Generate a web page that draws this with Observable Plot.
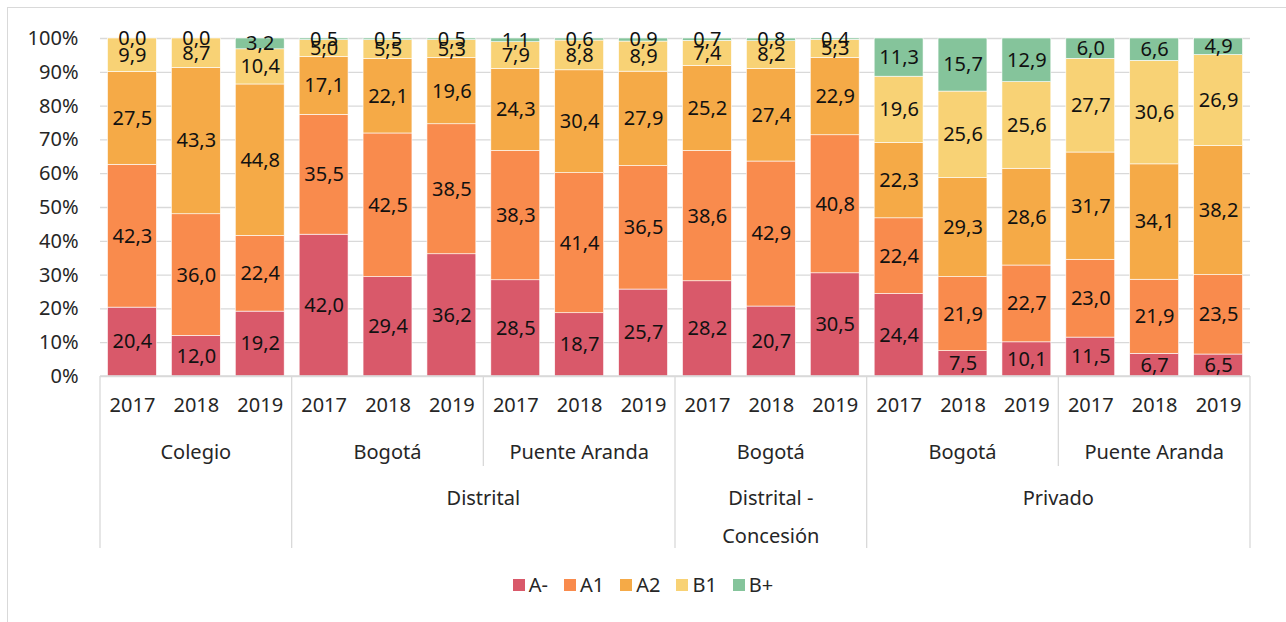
<!DOCTYPE html>
<html><head><meta charset="utf-8">
<script src="https://cdn.jsdelivr.net/npm/d3@7"></script>
<script src="https://cdn.jsdelivr.net/npm/@observablehq/plot@0.6"></script>
<style>
body{margin:0;background:#fff;font-family:"Noto Sans",sans-serif;}
#wrap{position:relative;width:1286px;height:622px;overflow:hidden;}
#frame{position:absolute;left:7px;top:7px;width:1300px;height:700px;border:1px solid #d9d9d9;}
#chart{position:absolute;left:0;top:0;}
#legend{position:absolute;top:571px;left:0;width:1286px;display:flex;justify-content:center;font-size:20px;color:#262626;}
.item{display:flex;align-items:center;margin:0 8px;}
.sw{width:12px;height:12px;margin-right:4px;}
</style></head>
<body><div id="wrap"><div id="frame"></div><div id="chart"></div><div id="legend"></div></div>
<script>
const categories = ["A-","A1","A2","B1","B+"];
const colors = ["#d9596a","#f98b4d","#f5aa47","#f8d275","#85c49b"];
const sector = ["","","","Distrital","Distrital","Distrital","Distrital","Distrital","Distrital","Distrital - Concesión","Distrital - Concesión","Distrital - Concesión","Privado","Privado","Privado","Privado","Privado","Privado"];
const place = ["Colegio","Colegio","Colegio","Bogotá","Bogotá","Bogotá","Puente Aranda","Puente Aranda","Puente Aranda","Bogotá","Bogotá","Bogotá","Bogotá","Bogotá","Bogotá","Puente Aranda","Puente Aranda","Puente Aranda"];
const years = ["2017","2018","2019","2017","2018","2019","2017","2018","2019","2017","2018","2019","2017","2018","2019","2017","2018","2019"];
const aMinus = [20.4,12.0,19.2,42.0,29.4,36.2,28.5,18.7,25.7,28.2,20.7,30.5,24.4,7.5,10.1,11.5,6.7,6.5];
const a1 = [42.3,36.0,22.4,35.5,42.5,38.5,38.3,41.4,36.5,38.6,42.9,40.8,22.4,21.9,22.7,23.0,21.9,23.5];
const a2 = [27.5,43.3,44.8,17.1,22.1,19.6,24.3,30.4,27.9,25.2,27.4,22.9,22.3,29.3,28.6,31.7,34.1,38.2];
const b1 = [9.9,8.7,10.4,5.0,5.5,5.3,7.9,8.8,8.9,7.4,8.2,5.3,19.6,25.6,25.6,27.7,30.6,26.9];
const bPlus = [0.0,0.0,3.2,0.5,0.5,0.5,1.1,0.6,0.9,0.7,0.8,0.4,11.3,15.7,12.9,6.0,6.6,4.9];
const yTicks = [0,0.1,0.2,0.3,0.4,0.5,0.6,0.7,0.8,0.9,1];

const seriesValues = [aMinus,a1,a2,b1,bPlus];
const keys = years.map((y,i)=>`${sector[i]}|${place[i]}|${y}`);
const rows = [];
categories.forEach((c,ci)=>seriesValues[ci].forEach((v,i)=>rows.push({key:keys[i],cat:c,v})));
const fmt = v => d3.format(".1f")(v).replace(".",",");
const font = '"Noto Sans",sans-serif';
const txt = "#262626";
const fs = 20;
const inset = 7.5;

const plot = Plot.plot({
  width:1286, height:560, marginTop:38, marginBottom:184, marginLeft:100, marginRight:36,
  style:{fontFamily:font, fontSize:fs+"px", color:txt, background:"transparent"},
  x:{domain:keys, padding:0, round:false, axis:null},
  y:{domain:[0,1], axis:null},
  color:{domain:categories, range:colors},
  marks:[
    Plot.ruleY(yTicks,{stroke:"#d9d9d9", strokeWidth:1.3}),
    Plot.barY(rows, Plot.stackY({offset:"normalize", x:"key", y:"v", fill:"cat", z:"cat", order:categories, stroke:"#fff", strokeWidth:0.6, insetLeft:inset, insetRight:inset})),
    Plot.text(rows, Plot.stackY({offset:"normalize", x:"key", y:"v", z:"cat", order:categories, text:d=>fmt(d.v), fill:"#111", fontSize:fs})),
    Plot.axisY({ticks:yTicks, tickFormat:d=>Math.round(d*100)+"%", tickSize:0, tickPadding:22, fontSize:fs, fill:txt, label:null}),
    Plot.text(keys,{x:d=>d, text:(d,i)=>years[i], frameAnchor:"bottom", dy:35, fontSize:fs, fill:txt})
  ]
});
document.getElementById("chart").appendChild(plot);

// hierarchical category labels & separators, positioned from the x scale
const xs = plot.scale("x");
const step = xs.step;
const left = k => xs.apply(k);
const right = k => left(k) + step;
const svg = d3.select(plot);
const g = svg.append("g").attr("font-family",font).attr("font-size",fs).attr("fill",txt).attr("text-anchor","middle");
const y0 = 376, yLvl2End = 466, yEnd = 548;
function runs(fn){
  const out=[]; keys.forEach((k,i)=>{const id=fn(i); if(out.length && out[out.length-1].id===id) out[out.length-1].end=k; else out.push({id,start:k,end:k,i});}); return out;
}
const lvl2 = runs(i=>sector[i]+"|"+place[i]);
const lvl3 = runs(i=>sector[i]);
const lvl3Starts = new Set(lvl3.map(r=>r.start));
lvl2.forEach(r=>{
  const xa=left(r.start), xb=right(r.end);
  const full = lvl3Starts.has(r.start);
  g.append("line").attr("x1",xa).attr("x2",xa).attr("y1",y0).attr("y2",full?yEnd:yLvl2End).attr("stroke","#d9d9d9").attr("stroke-width",1.3);
  g.append("text").attr("x",(xa+xb)/2).attr("y",452).attr("dy","0.35em").text(place[r.i]);
});
const xr = right(keys[keys.length-1]);
g.append("line").attr("x1",xr).attr("x2",xr).attr("y1",y0).attr("y2",yEnd).attr("stroke","#d9d9d9").attr("stroke-width",1.3);
g.append("line").attr("x1",left(keys[0])).attr("x2",xr).attr("y1",y0).attr("y2",y0).attr("stroke","#d9d9d9").attr("stroke-width",1.3);
lvl3.forEach(r=>{
  if(!r.id) return;
  const xa=left(r.start), xb=right(r.end);
  const parts = r.id.includes(" - ") ? [r.id.split(" - ")[0]+" -", r.id.split(" - ")[1]] : [r.id];
  parts.forEach((p,j)=>g.append("text").attr("x",(xa+xb)/2).attr("y",498+j*38).attr("dy","0.35em").text(p));
});

// legend
const lg = d3.select("#legend");
categories.forEach((c,i)=>{
  const it = lg.append("div").attr("class","item");
  it.append("div").attr("class","sw").style("background",colors[i]);
  it.append("span").text(c);
});
</script></body></html>
